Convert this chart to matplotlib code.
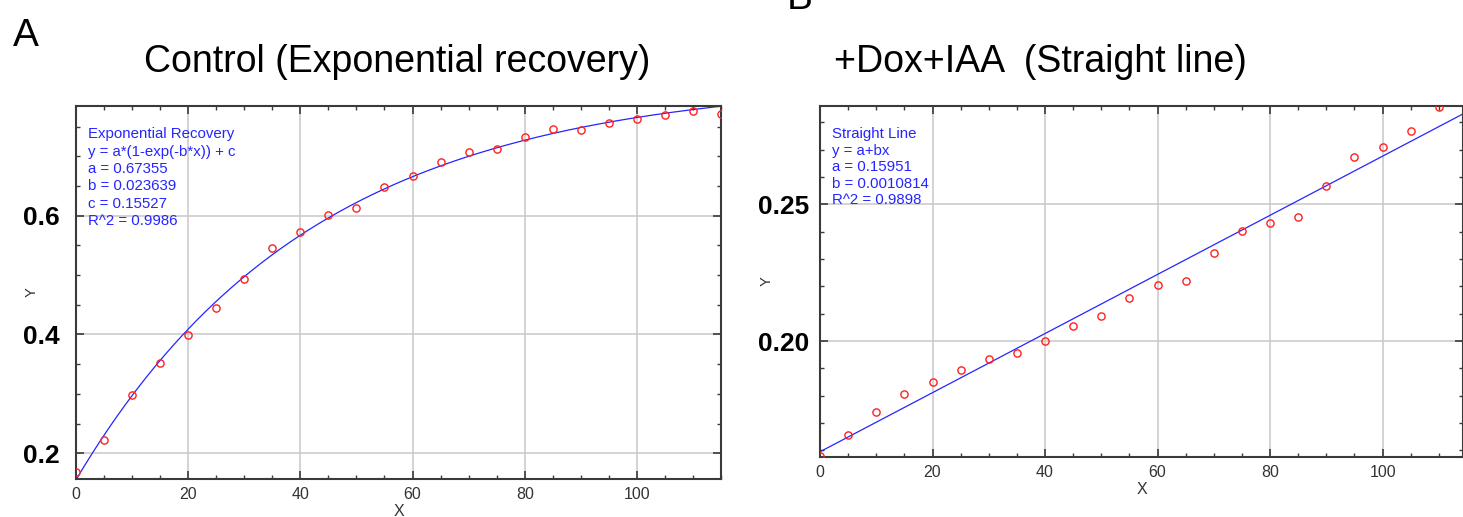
import numpy as np
import matplotlib
matplotlib.use("Agg")
import matplotlib.pyplot as plt
from matplotlib.ticker import MultipleLocator

plt.rcParams['font.family'] = ['Liberation Sans', 'DejaVu Sans']

# ---------------- data ----------------
x_control = [0, 5, 10, 15, 20, 25, 30, 35, 40, 45, 50, 55, 60, 65, 70, 75,
             80, 85, 90, 95, 100, 105, 110, 115]
y_control = [0.169, 0.2225, 0.298, 0.3527, 0.3983, 0.4445, 0.493, 0.5453,
             0.573, 0.6017, 0.6124, 0.6479, 0.667, 0.690, 0.708, 0.712,
             0.732, 0.746, 0.744, 0.757, 0.763, 0.769, 0.777, 0.771]
fit_a, fit_b, fit_c = 0.67355, 0.023639, 0.15527

x_dox = [0, 5, 10, 15, 20, 25, 30, 35, 40, 45, 50, 55, 60, 65, 70, 75,
         80, 85, 90, 95, 100, 105, 110]
y_dox = [0.158, 0.1656, 0.1741, 0.1806, 0.1849, 0.1896, 0.1935, 0.1956,
         0.2002, 0.2055, 0.2093, 0.2157, 0.2204, 0.2218, 0.2321, 0.2402,
         0.2432, 0.2454, 0.2568, 0.2672, 0.2711, 0.2767, 0.2857]
line_a, line_b = 0.15951, 0.0010814

ctrl_yticks = [0.2, 0.4, 0.6]
ctrl_yticklabels = ['0.2', '0.4', '0.6']
dox_yticks = [0.20, 0.25]
dox_yticklabels = ['0.20', '0.25']
xticks = [0, 20, 40, 60, 80, 100]

ctrl_text = ['Exponential Recovery', 'y = a*(1-exp(-b*x)) + c',
             'a = 0.67355', 'b = 0.023639', 'c = 0.15527', 'R^2 = 0.9986']
dox_text = ['Straight Line', 'y = a+bx', 'a = 0.15951',
            'b = 0.0010814', 'R^2 = 0.9898']

# ---------------- figure ----------------
W, H = 1463, 517
fig = plt.figure(figsize=(W / 100, H / 100), dpi=100)

BLUE = '#2525ff'
RED = '#ff2020'
SPINE = '#3a3a3a'
GRID = '#c8c8c8'
TXT = '#333333'


def px_axes(l, t, r, b):
    return fig.add_axes([l / W, 1 - b / H, (r - l) / W, (b - t) / H])


def style(ax, yminor, ylabelpad):
    ax.set_xticks(xticks)
    ax.xaxis.set_minor_locator(MultipleLocator(5))
    ax.yaxis.set_minor_locator(MultipleLocator(yminor))
    ax.grid(True, which='major', color=GRID, lw=1.1, zorder=0)
    ax.set_axisbelow(True)
    for s in ax.spines.values():
        s.set_color(SPINE)
        s.set_linewidth(1.5)
    ax.tick_params(which='both', direction='in', top=True, right=True,
                   color=SPINE)
    ax.tick_params(which='major', length=6, width=1.2)
    ax.tick_params(which='minor', length=3, width=1.0)
    ax.tick_params(axis='x', labelsize=11.5, labelcolor=TXT, pad=5.5)
    ax.tick_params(axis='y', pad=ylabelpad)


# ---- Panel A ----
ax1 = px_axes(76, 106, 721, 479)
xf1 = np.linspace(0, 115, 400)
ax1.plot(xf1, fit_a * (1 - np.exp(-fit_b * xf1)) + fit_c, color=BLUE,
         lw=0.9, zorder=2)
ax1.plot(x_control, y_control, 'o', mfc='none', mec=RED, ms=5.2, mew=1.0,
         zorder=3)
ax1.set_xlim(0, 115)
ax1.set_ylim(0.1566, 0.7848)
style(ax1, 0.05, 11.5)
ax1.set_yticks(ctrl_yticks)
ax1.set_yticklabels(ctrl_yticklabels, fontsize=19, fontweight='bold')
ax1.text(0.5, (479 - 511) / 373, 'X', transform=ax1.transAxes,
         ha='center', va='center', fontsize=11.5, color=TXT)
ax1.text((32 - 76) / 645, 0.5, 'Y', transform=ax1.transAxes, rotation=90,
         ha='center', va='center', fontsize=10.5, color=TXT)
for i, s in enumerate(ctrl_text):
    fig.text(88 / W, 1 - (134.3 + 17.4 * i) / H, s, ha='left', va='center',
             fontsize=10.8, color=BLUE)

# ---- Panel B ----
ax2 = px_axes(820, 106, 1462.5, 457)
xf2 = np.linspace(0, 115, 50)
ax2.plot(xf2, line_a + line_b * xf2, color=BLUE, lw=0.9, zorder=2)
ax2.plot(x_dox, y_dox, 'o', mfc='none', mec=RED, ms=5.2, mew=1.0, zorder=3)
ax2.set_xlim(0, 114.2)
ax2.set_ylim(0.1576, 0.286)
style(ax2, 0.01, 7.5)
ax2.set_yticks(dox_yticks)
ax2.set_yticklabels(dox_yticklabels, fontsize=19, fontweight='bold')
ax2.text((1142 - 820) / 642.5, (457 - 490) / 351, 'X',
         transform=ax2.transAxes, ha='center', va='center', fontsize=11.5,
         color=TXT)
ax2.text((767 - 820) / 642.5, 0.5, 'Y', transform=ax2.transAxes,
         rotation=90, ha='center', va='center', fontsize=10.5, color=TXT)
for i, s in enumerate(dox_text):
    fig.text(832 / W, 1 - (134.3 + 16.4 * i) / H, s, ha='left', va='center',
             fontsize=10.8, color=BLUE)

# ---- titles and panel letters ----
fig.text(397 / W, 1 - 62 / H, 'Control (Exponential recovery)',
         ha='center', va='center', fontsize=27)
fig.text(1040 / W, 1 - 62 / H, '+Dox+IAA  (Straight line)',
         ha='center', va='center', fontsize=27)
fig.text(26 / W, 1 - 36 / H, 'A', ha='center', va='center', fontsize=28)
fig.text(800 / W, 1 - 9 / H, 'B', ha='center', va='baseline', fontsize=28)

fig.savefig('out.png', dpi=100)
